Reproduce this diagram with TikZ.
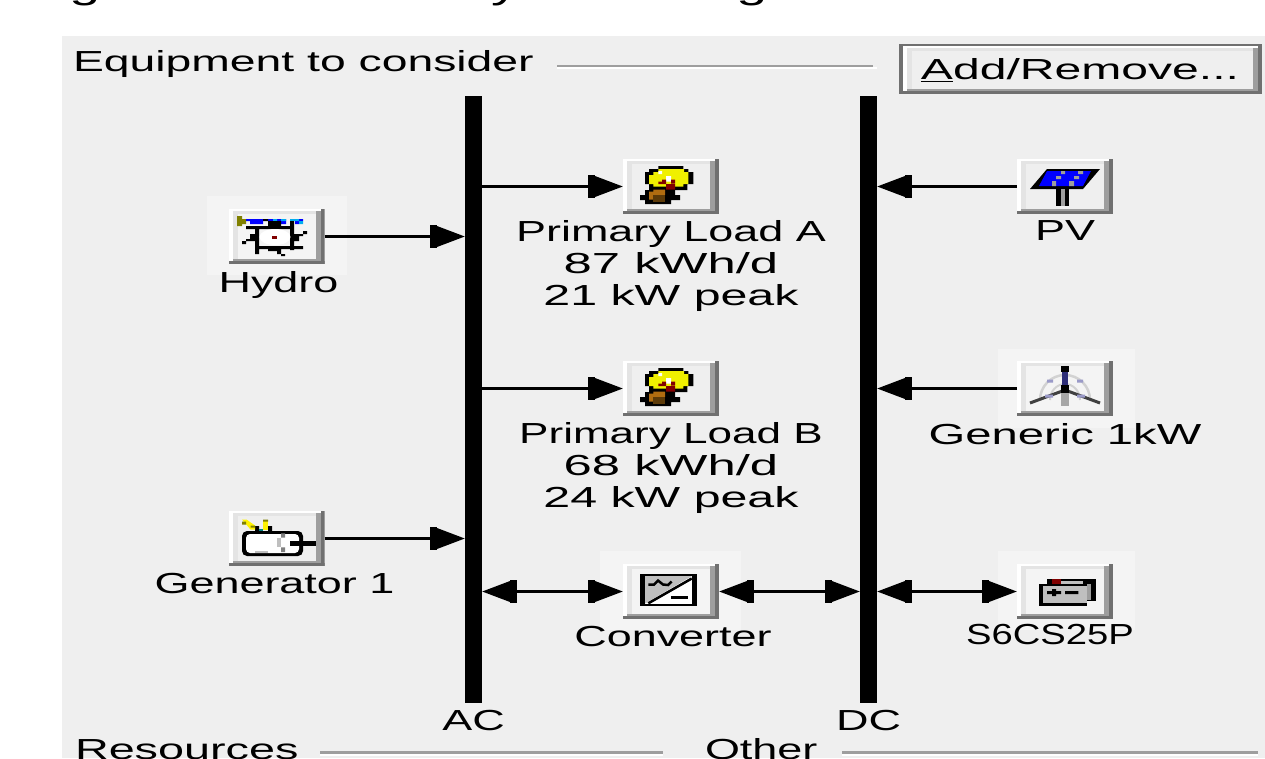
\documentclass[tikz,border=0pt]{standalone}
\usepackage{fontspec}
\setmainfont[FakeStretch=1.55]{Liberation Sans}
\usepackage{tikz}
\usetikzlibrary{
    arrows.meta,
    positioning,
    calc
}
\definecolor{panel}{HTML}{EFEFEF}
\definecolor{glowbg}{HTML}{F4F4F4}
\definecolor{bevellight}{HTML}{E4E4E4}
\definecolor{bevelmid}{HTML}{9E9E9E}
\definecolor{beveldark}{HTML}{707070}
\definecolor{olive}{HTML}{808000}
\definecolor{navy}{HTML}{2E2E78}
\definecolor{lavender}{HTML}{9A9AC8}
\definecolor{bulbyellow}{HTML}{F0F000}
\definecolor{bulbred}{HTML}{800000}
\definecolor{bulbbrown}{HTML}{B06C10}
\definecolor{bulbdark}{HTML}{5C3A08}
\newcommand{\widen}[2]{\scalebox{#1}[1]{#2}}

\begin{document}
\begin{tikzpicture}[
        x=1pt,
        y=-1pt,
        every node/.style={
            font=\fontsize{29}{32}\selectfont,
            inner sep=0pt,
            outer sep=0pt
        },
        bus/.style={
            rectangle,
            fill=black,
            minimum width=17pt,
            minimum height=607pt
        },
        tag/.style={
            align=center
        },
        button/.style={
            rectangle,
            minimum width=96pt,
            minimum height=55pt,
            fill=panel,
            path picture={
                \path (path picture bounding box.north west) coordinate (nw)
                      (path picture bounding box.south east) coordinate (se);
                \fill[white] (nw) rectangle ($(nw |- se)+(4,0)$);
                \fill[white] (nw) rectangle ($(se |- nw)+(0,2)$);
                \fill[bevellight] ($(nw)+(4,2)$) rectangle ($(nw |- se)+(9,-5)$);
                \fill[bevellight] ($(nw)+(4,2)$) rectangle ($(se |- nw)+(-9,5)$);
                \fill[bevelmid] ($(se)+(-9,-5)$) rectangle ($(se |- nw)+(-4,2)$);
                \fill[bevelmid] ($(se)+(-4,-3)$) rectangle ($(nw |- se)+(4,-5)$);
                \fill[beveldark] (se) rectangle ($(se |- nw)+(-4,0)$);
                \fill[beveldark] (se) rectangle ($(nw |- se)+(0,-3)$);
            }
        },
        lit/.style={
            fill=glowbg
        },
        link/.style={
            -{Rectangle[length=7pt,width=23pt,sep=0pt] Triangle[length=28pt,width=20pt]},
            line width=3.5pt
        },
        twoway/.style={
            {Triangle[length=28pt,width=20pt,sep=0pt] Rectangle[length=7pt,width=23pt]}-{Rectangle[length=7pt,width=23pt,sep=0pt] Triangle[length=28pt,width=20pt]},
            line width=3.5pt
        },
        rulegrey/.style={
            fill=bevelmid
        },
        bulbicon/.pic={
            \fill[black] (-12.7,-20.5) rectangle (12.3,-17.5) (-22,-17.5) rectangle (17.3,-14.5)
                (-26,-14.5) rectangle (22.3,-2.5) (-22,-2.5) rectangle (16.3,3.5);
            \fill[bulbyellow] (-12.7,-17.5) rectangle (13,-14.5) (-17.7,-14.5) rectangle (17.3,-11.5)
                (-22,-11.5) rectangle (17.3,-2.5) (-17.7,-2.5) rectangle (12.3,0);
            \fill[white] (-5,-10.5) rectangle (0,-5) (-12.7,-15.5) rectangle (-9,-12.5);
            \fill[bulbred] (-9,-7) rectangle (-5,-2.5) (-12.7,-5) rectangle (-9,-2.5)
                (-5,-2.5) rectangle (4,3) (0,-7) rectangle (4,-3);
            \fill[black] (-26,3.5) rectangle (4,8.5) (-31,8.5) rectangle (9,13.5) (-26,13.5) rectangle (0,17.5);
            \fill[bulbbrown] (-17.7,3) rectangle (-6,8.5) (-22,5) rectangle (-13,13);
            \fill[bulbdark] (-17.7,8.5) rectangle (-6,15);
        },
        pvicon/.pic={
            \fill[black] (-18,-17.5) -- (35,-17.5) -- (18,2.5) -- (-35,2.5) -- cycle;
            \fill[blue] (-18,-15.5) -- (26,-15.5) -- (18,-0.5) -- (-26,-0.5) -- cycle;
            \fill[bevelmid] (-4,-15.5) rectangle (0,-12.5) (-9,-10.5) rectangle (-4,-7.5)
                (13,-15.5) rectangle (18,-12.5) (9,-10.5) rectangle (14,-7.5)
                (-13,-5.5) rectangle (-9,-0.5) (4,-5.5) rectangle (9,-0.5);
            \fill[black] (-9,2.5) rectangle (4,19.5);
            \fill[bevelmid] (-4,2.5) rectangle (0,19.5);
        },
        hydroicon/.pic={
            \fill[olive] (-39.5,-20.5) rectangle (-34.5,-10.5) (-34.5,-17.5) rectangle (-30.5,-12.5);
            \fill[blue] (-30.5,-17.5) rectangle (-26.5,-15.5) (-26.5,-17.5) rectangle (-13.5,-12.5)
                (-8.5,-17.5) rectangle (-3.5,-15.5) (0.5,-17.5) rectangle (9.5,-12.5)
                (18.5,-15.5) rectangle (22.5,-12.5) (22.5,-17.5) rectangle (26.5,-15.5);
            \fill[cyan] (-8.5,-15.5) rectangle (-3.5,-12.5) (-3.5,-17.5) rectangle (0.5,-15.5)
                (4.5,-17.5) rectangle (9.5,-15.5) (13.5,-17.5) rectangle (22.5,-15.5)
                (22.5,-15.5) rectangle (26.5,-12.5);
            \fill[black] (-13.5,-17.5) rectangle (-8.5,-15.5)
                (-30.5,-10.5) rectangle (17.5,-7.5) (-8.5,-15.5) rectangle (4.5,-10.5)
                (13.5,-15.5) rectangle (17.5,13.5) (-21.5,-7.5) rectangle (-17.5,17.5)
                (-26.5,-2.5) rectangle (-17.5,3.5) (-34.5,4.5) rectangle (-30.5,7.5)
                (-30.5,2.5) rectangle (-21.5,4.5) (17.5,-2.5) rectangle (22.5,4.5)
                (22.5,-2.5) rectangle (26.5,-0.5) (26.5,-5.5) rectangle (30.5,-2.5)
                (-17.5,9.5) rectangle (26.5,12.5) (-8.5,12.5) rectangle (4.5,14.5)
                (0.5,14.5) rectangle (4.5,17.5) (4.5,17.5) rectangle (8.5,19.5);
            \fill[white] (-1.5,0.5) ellipse (15.5 and 8);
            \fill[bulbred] (-4.5,-0.5) rectangle (0.5,2.5);
        },
        genicon/.pic={
            \fill[black, rounded corners=5pt] (-34.5,-7.5) rectangle (26.5,17.5);
            \fill[white, rounded corners=4pt] (-30.5,-4.5) rectangle (22.5,14.5);
            \fill[gray] (4.5,-5.2) rectangle (8.5,-1) (4.5,8.8) rectangle (8.5,13.5);
            \fill[gray!50] (0.5,-1) rectangle (4.5,8.8);
            \fill[gray!50] (-21.5,12.5) rectangle (-8.5,14.5);
            \fill[black] (13.5,2.5) rectangle (39.5,7.5);
            \fill[black] (-21.5,-12.5) rectangle (-17.5,-7.5) (-8.5,-12.5) rectangle (-4.5,-7.5);
            \fill[yellow] (-34.5,-19) -- (-30,-19) -- (-21.5,-13) -- (-21.5,-9) -- (-26,-9) -- cycle;
            \fill[yellow] (-13.5,-18.5) rectangle (-8.5,-8.5);
            \fill[olive] (-34.5,-17) rectangle (-30.5,-14) (-13.5,-19) rectangle (-8.5,-17)
                (-26,-13) rectangle (-21.5,-11);
            \fill[teal] (-17.5,-9.5) rectangle (-13.5,-7.5);
        },
        convicon/.pic={
            \fill[black] (-31,-17.5) rectangle (26,14.5);
            \fill[white] (-26,-15.5) rectangle (21,12);
            \fill[gray!50] (-26,-15.5) -- (21,-15.5) -- (-26,12) -- cycle;
            \draw[line width=2.5pt] (-22.7,11.8) -- (20.7,-13);
            \draw[line width=2.5pt] (-22.7,-7) -- (-17,-7) -- (-13,-11) -- (-8,-7) -- (-3,-6.5) -- (0.7,-10);
            \fill[black] (0,4.5) rectangle (17.3,7.5);
        },
        batticon/.pic={
            \fill[black] (-26,-7.5) rectangle (21.7,14.5);
            \fill[black] (-18,-12.5) rectangle (31,-7.5);
            \fill[black] (21.7,-12.5) rectangle (31,9.5);
            \fill[gray!50] (-22,-5.5) rectangle (21.7,11.2);
            \fill[gray!50] (-13,-10.5) rectangle (18.3,-7.5);
            \fill[bevelmid] (22.3,-7.5) rectangle (26,8.5);
            \fill[bulbred] (-13,-12.5) rectangle (-4,-7.5);
            \fill[black] (-18,-0.5) rectangle (-4,2.5) (-13,-2.5) rectangle (-9,4.5) (0,-0.5) rectangle (13.3,2.5);
        },
        windicon/.pic={
            \draw[gray!35, line width=2.5pt] (-25,11.5) arc (180:360:25 and 25);
            \draw[gray!35, line width=2pt] (-15,11.5) arc (180:360:15 and 16);
            \fill[lavender] (-18,-9) rectangle (-12,-6) (12,-9) rectangle (18,-6);
            \draw[black!75, line width=3pt] (-35,14.5) -- (0,1.5) -- (35,14.5);
            \fill[lavender] (-20,6) rectangle (-12,9) (12,6) rectangle (20,9);
            \fill[black] (-4,-22.5) rectangle (4,-16.5);
            \fill[navy] (-3,-16.5) rectangle (3,-3.5);
            \fill[black] (-4,-3.5) rectangle (4,4.5);
            \fill[gray!70] (-4,4.5) rectangle (4,17.5);
        }
    ]

    \clip (0,0) rectangle (1265,758);
    \useasboundingbox (0,0) rectangle (1265,758);
    \fill[white] (0,0) rectangle (1265,758);

    % fragments of the cut off line
    \node[font=\fontsize{36}{36}\selectfont, anchor=base] (cutg) at (85,-1.5) {g};
    \node[font=\fontsize{36}{36}\selectfont, anchor=base] (cuty) at (505,-1.5) {y};
    \node[font=\fontsize{36}{36}\selectfont, anchor=base] (cutgb) at (752,-1.5) {g};

    \fill[panel] (62,36) rectangle (1265,758);

    % lighter boxes behind some of the icons
    \fill[glowbg] (207,196) rectangle (347,275);
    \fill[glowbg] (600,551) rectangle (741,630);
    \fill[glowbg] (998,349) rectangle (1135,428);
    \fill[glowbg] (998,551) rectangle (1135,630);

    \node[anchor=base west] (equip) at (73,71) {\widen{1.03}{Equipment to consider}};
    \fill[rulegrey] (557,64.5) rectangle (873,66.5);
    \fill[white] (557,66.5) rectangle (877,68.5);

    \node[fill=beveldark, minimum width=363pt, minimum height=50pt] (addframe) at (1080.5,69) {};
    \node[button, minimum width=359pt, minimum height=48pt] (addremove) at (1082.5,70)
        {\hspace*{-5pt}\widen{1.07}{\underline{A}dd/Remove...}};

    \node[bus] (ac) at (473.5,399.5) {};
    \node[bus] (dc) at (868.5,399.5) {};
    \node[tag, below=7pt of ac] (aclabel) {AC};
    \node[tag, below=7pt of dc] (dclabel) {DC};

    \node[button] (loada) at (671,186.5) {};
    \node[button] (loadb) at (671,388.5) {};
    \node[button, lit] (hydro) at (276.5,236.5) {};
    \node[button] (generator) at (276.5,538.5) {};
    \node[button, lit] (converter) at (671,591.5) {};
    \node[button] (pv) at (1065,186.5) {};
    \node[button, lit] (wind) at (1065,388.5) {};
    \node[button, lit] (battery) at (1065,591.5) {};

    \pic at (loada) {bulbicon};
    \pic at (loadb) {bulbicon};
    \pic at (hydro) {hydroicon};
    \pic at (generator) {genicon};
    \pic at (converter) {convicon};
    \pic at (pv) {pvicon};
    \pic at (wind) {windicon};
    \pic at (battery) {batticon};

    \node[tag, below=6.5pt of loada] (loadalabel)
        {Primary Load A\\\widen{1.13}{87 kWh/d}\\\widen{1.075}{21 kW peak}};
    \node[tag, below=6.5pt of loadb] (loadblabel)
        {\widen{0.98}{Primary Load B}\\\widen{1.13}{68 kWh/d}\\\widen{1.075}{24 kW peak}};
    \node[tag, below=7pt of hydro, xshift=2pt] (hydrolabel) {Hydro};
    \node[tag, below=7pt of generator, xshift=-2pt] (generatorlabel) {Generator 1};
    \node[tag, below=7pt of converter, xshift=2pt] (converterlabel) {Converter};
    \node[tag, below=7pt of pv] (pvlabel) {PV};
    \node[tag, below=7pt of wind] (windlabel) {\widen{1.05}{Generic 1kW}};
    \node[tag, below=5pt of battery, xshift=-15pt] (batterylabel) {\widen{0.85}{S6CS25P}};

    \draw[link] (ac.east |- loada.west) -- (loada.west);
    \draw[link] (ac.east |- loadb.west) -- (loadb.west);
    \draw[link] (hydro.east) -- (hydro.east -| ac.west);
    \draw[link] (generator.east) -- (generator.east -| ac.west);
    \draw[link] (pv.west) -- (pv.west -| dc.east);
    \draw[link] (wind.west) -- (wind.west -| dc.east);
    \draw[twoway] (ac.east |- converter.west) -- (converter.west);
    \draw[twoway] (converter.east) -- (converter.east -| dc.west);
    \draw[twoway] (dc.east |- battery.west) -- (battery.west);

    \node[anchor=base west] (resources) at (75,759) {\widen{1.04}{Resources}};
    \fill[rulegrey] (320,751) rectangle (663,754);
    \fill[white] (320,754) rectangle (663,756);
    \node[anchor=base west] (other) at (705,759) {Other};
    \fill[rulegrey] (842,751) rectangle (1258,754);
    \fill[white] (842,754) rectangle (1258,756);

    \end{tikzpicture}
\end{document}
